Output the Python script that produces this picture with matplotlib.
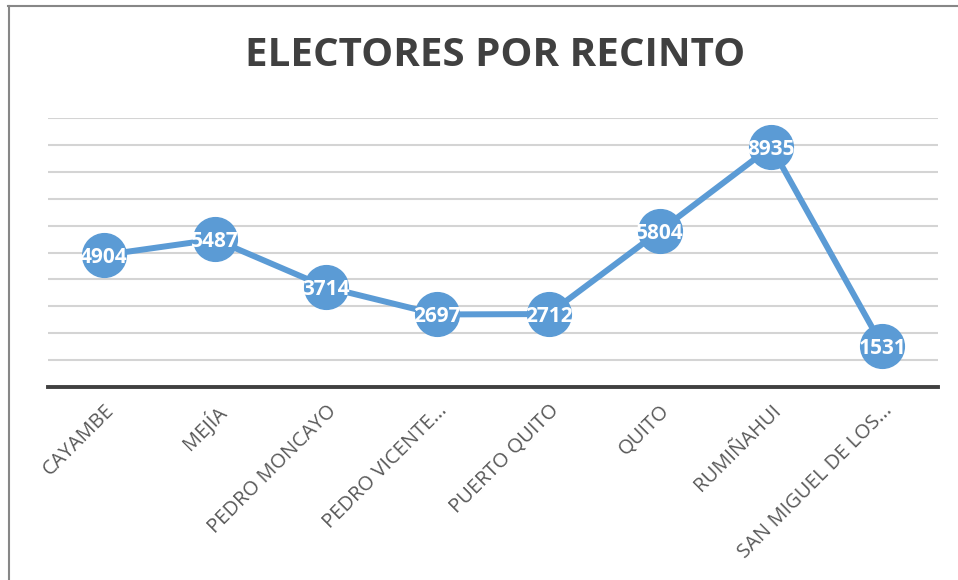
import numpy as np
import matplotlib.pyplot as plt
from matplotlib.lines import Line2D

######################################################################
# data

cantones = ['CAYAMBE', 'MEJÍA', 'PEDRO MONCAYO', 'PEDRO VICENTE...',
            'PUERTO QUITO', 'QUITO', 'RUMIÑAHUI', 'SAN MIGUEL DE LOS...']
electores = [4904, 5487, 3714, 2697, 2712, 5804, 8935, 1531]

######################################################################

blue = '#5B9BD5'
dark = '#404040'

fig = plt.figure(figsize=(9.58, 5.8), dpi=100)
ax = fig.add_axes([48/958, 1 - 387/580, 890/958, 269/580])

x = np.arange(len(cantones))

ax.plot(x, electores, '-', color=blue, lw=4.3, zorder=3,
        solid_capstyle='round')
ax.plot(x, electores, 'o', color=blue, ms=31.5, zorder=4)

for xi, v in zip(x, electores):
    ax.text(xi, v, str(v), color='white', fontsize=15, fontweight='bold',
            family='Open Sans', ha='center', va='center_baseline', zorder=5)

ax.set_xlim(-0.5, len(cantones) - 0.5)
ax.set_ylim(0, 10000)
ax.set_yticks(np.arange(1000, 10001, 1000))
ax.yaxis.grid(True, color='#d4d4d4', lw=1.5)
ax.set_axisbelow(True)
ax.tick_params(axis='y', left=False, labelleft=False)

for s in ['top', 'right', 'left']:
    ax.spines[s].set_visible(False)
ax.spines['bottom'].set_color(dark)
ax.spines['bottom'].set_linewidth(2.8)

ax.set_xticks(x)
ax.set_xticklabels(cantones, rotation=45, ha='right', va='top',
                   rotation_mode='anchor', color='#595959', fontsize=14.5,
                   family='Open Sans')
ax.tick_params(axis='x', length=0, pad=10)

fig.text(495/958, 1 - 55/580, 'ELECTORES POR RECINTO', ha='center',
         va='center', fontsize=29, fontweight='bold', color=dark,
         family='Open Sans')

# chart frame (top and left edge only are visible)
fig.add_artist(Line2D([8/958, 1], [1 - 6/580, 1 - 6/580],
                      transform=fig.transFigure, color='#878787', lw=1.5))
fig.add_artist(Line2D([8.5/958, 8.5/958], [0, 1 - 6/580],
                      transform=fig.transFigure, color='#878787', lw=1.5))

fig.savefig('out.png', dpi=100)
